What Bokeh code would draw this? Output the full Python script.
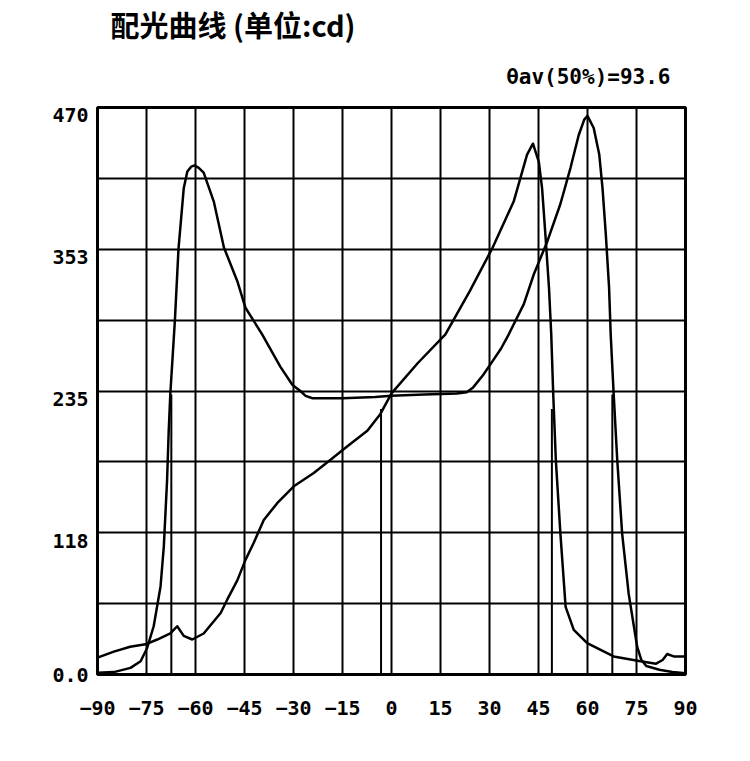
from bokeh.plotting import figure
from bokeh.models import FixedTicker, Range1d, Title, LinearAxis
from bokeh.embed import file_html
from bokeh.resources import INLINE

# ---- data ----
title_text = "配光曲线 (单位:cd)"
note_text = "θav(50%)=93.6"

x_ticks = [-90, -75, -60, -45, -30, -15, 0, 15, 30, 45, 60, 75, 90]
y_ticks = [0, 117.5, 235, 352.5, 470]
y_tick_labels = ["0.0", "118", "235", "353", "470"]
y_grid = [0, 58.75, 117.5, 176.25, 235, 293.75, 352.5, 411.25, 470]

# curve A (batwing, peaks near -60 and 60)
angles_a = [-90, -85, -79.9, -76.8, -74.8, -72.8, -70.7, -69.7, -68.7, -68.2,
            -67.7, -66.3, -65.2, -63.6, -62.5, -61.3, -60.3, -59, -57.5, -54.4,
            -51.3, -47.2, -44.7, -39.6, -34, -30.3, -27.9, -26.3, -24.2, -15,
            -5, 0, 10, 20, 23, 25, 28, 31, 33.5, 35.9,
            40.5, 43.6, 47.7, 51.7, 54.8, 57.3, 59, 60, 61.9, 63.6,
            64.6, 65.6, 66.6, 67.1, 68, 69.1, 70.6, 72.6, 75.2, 76.5,
            78, 82, 86, 90]
values_a = [1.4, 2, 5.5, 11, 22, 40, 73, 106, 161, 202,
            233, 294, 353, 403, 417, 421, 422, 420, 416, 392,
            354, 326, 304, 282, 255, 240, 235, 231, 229, 229,
            230, 231, 232, 233, 234, 238, 248, 260, 270, 282,
            307, 332, 359, 390, 420, 447, 460, 463, 453, 431,
            403, 365, 321, 282, 233, 178, 117, 67, 23, 12,
            7, 4, 2, 1]

# curve B (single peak near 43)
angles_b = [-90, -85, -80, -75.3, -71.7, -67.7, -65.6, -63.6, -61, -57.5,
            -52.3, -50.3, -47.2, -44.7, -42.2, -39.1, -35, -29.9, -23.8, -17.7,
            -13.6, -7.4, -3.4, 0, 8, 16.5, 24, 30.8, 37.4, 41.5,
            43.3, 45.1, 46.1, 47.1, 48.2, 48.9, 49.5, 50.3, 51.7, 53.3,
            55.8, 59.9, 68, 76.2, 81, 83, 84.4, 86.4, 90]
values_b = [14, 19, 23, 25, 29, 34, 40, 32, 29, 34,
            51, 62, 78, 95, 109, 128, 142, 156, 167, 180,
            189, 202, 216, 233, 258, 282, 318, 353, 392, 431,
            440, 425, 403, 365, 321, 282, 233, 178, 117, 56,
            37, 26, 15, 11, 9, 12, 17, 15, 15]

# 50% intensity angles and their levels
half_angles = [-67.4, -3.2, 49.1, 67.6]
half_levels = [232, 220, 220, 232]

# ---- figure ----
FRAME_H = 568
LABEL_DROP_PX = 8  # tick labels sit just below their grid lines
x_lo, x_hi = -90, 90
y_lo, y_hi = 0, 470
shift = (y_hi - y_lo) * LABEL_DROP_PX / FRAME_H

p = figure(width=742, height=745,
           x_range=Range1d(x_lo, x_hi), y_range=Range1d(y_lo, y_hi),
           output_backend="svg", toolbar_location=None,
           min_border_left=97, min_border_right=57,
           min_border_top=106, min_border_bottom=71)

p.background_fill_color = "white"
p.border_fill_color = "white"
p.outline_line_color = "black"
p.outline_line_width = 3
p.outline_line_alpha = 1

mono = "DejaVu Sans Mono"

p.extra_y_ranges = {"labels": Range1d(y_lo + shift, y_hi + shift)}

p.xaxis.ticker = FixedTicker(ticks=x_ticks)
p.yaxis.visible = False

# tick labels on a slightly shifted axis (the lowest one kept inside the range)
label_ticks = [max(t, y_lo + shift) for t in y_ticks]
lab_axis = LinearAxis(y_range_name="labels", ticker=FixedTicker(ticks=label_ticks))
lab_axis.major_label_overrides = {t: s for t, s in zip(label_ticks, y_tick_labels)}
p.add_layout(lab_axis, "left")

for ax in (p.xaxis[0], lab_axis):
    ax.axis_line_color = None
    ax.major_tick_line_color = None
    ax.minor_tick_line_color = None
    ax.major_tick_out = 0
    ax.major_tick_in = 0
    ax.major_label_text_font = mono
    ax.major_label_text_font_style = "bold"
    ax.major_label_text_color = "black"
    ax.major_label_text_font_size = "20px"

p.xaxis.major_label_standoff = 26
lab_axis.major_label_standoff = 9

for g in (p.xgrid, p.ygrid):
    g.grid_line_color = "black"
    g.grid_line_width = 2
    g.grid_line_alpha = 1
p.xgrid.ticker = FixedTicker(ticks=x_ticks)
p.ygrid.ticker = FixedTicker(ticks=y_grid)

# 50% angle markers
p.segment(x0=half_angles, y0=[0] * len(half_angles), x1=half_angles, y1=half_levels,
          line_color="black", line_width=2)

p.line(angles_a, values_a, line_color="black", line_width=2.5, line_join="round")
p.line(angles_b, values_b, line_color="black", line_width=2.5, line_join="round")

p.add_layout(Title(text=note_text, align="right", offset=15,
                   text_font=mono, text_font_size="21px", text_font_style="bold",
                   text_color="black", standoff=37), "above")
p.add_layout(Title(text=title_text, align="left", offset=13,
                   text_font="Noto Sans CJK SC", text_font_size="29px",
                   text_font_style="bold", text_color="black", standoff=0), "above")

open("out.html", "w").write(file_html(p, INLINE))
